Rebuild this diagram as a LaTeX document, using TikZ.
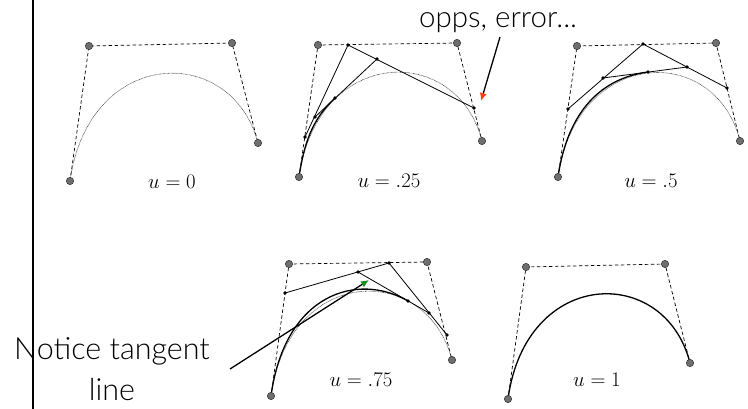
\documentclass[tikz,border=0pt]{standalone}
\usepackage{fontspec}
\newfontfamily\annfont{Lato Light}
\usetikzlibrary{arrows.meta}
\definecolor{errred}{RGB}{255,60,20}
\definecolor{tangreen}{RGB}{30,140,30}
\definecolor{ctrlgray}{RGB}{110,110,110}
\begin{document}
\begin{tikzpicture}[x=1pt,y=-1pt,
  ctrl/.style={circle,draw=black!80,line width=0.5pt,fill=ctrlgray,inner sep=0pt,minimum size=7.4pt},
  dot/.style={circle,fill=black,inner sep=0pt,minimum size=3.6pt},
  poly/.style={line width=0.7pt,dash pattern=on 3.5pt off 2.5pt},
  guide/.style={line width=0.6pt,black!80,dash pattern=on 0.6pt off 0.7pt},
  curvethick/.style={line width=1.3pt},
  constr/.style={line width=0.8pt},
  lab/.style={anchor=base,font=\fontsize{19.5}{23}\selectfont},
  ann/.style={font=\annfont\fontsize{30.5}{41}\selectfont,align=center,inner sep=0pt},
  arr/.style={line width=1.3pt}]
\useasboundingbox (0,0) rectangle (748,409);

% left vertical rule
\coordinate (vtop) at (33,0);
\coordinate (vbot) at (33,409);
\draw[line width=1.6pt] (vtop) -- (vbot);

% ---------- panel 1 : u = 0
\coordinate (a0) at (70,181);
\coordinate (a1) at (89,46);
\coordinate (a2) at (232,43);
\coordinate (a3) at (258,143);
\draw[poly] (a0) -- (a1) -- (a2) -- (a3);
\draw[guide] (a0) .. controls (a1) and (a2) .. (a3);
\foreach \p in {a0,a1,a2,a3} \node[ctrl] at (\p) {};
\node[lab] (la) at (172,189) {$u=0$};

% ---------- panel 2 : u = .25 (with error)
\coordinate (b0) at (299,177);
\coordinate (b1) at (318,45);
\coordinate (b2) at (457,43);
\coordinate (b3) at (482,141);
\coordinate (bq0) at (305,137);
\coordinate (bq1) at (348,45);
\coordinate (bq2) at (474,108);
\coordinate (br0) at (315,117);
\coordinate (br1) at (377,59);
\coordinate (bs) at (335,98);
\draw[poly] (b0) -- (b1) -- (b2) -- (b3);
\draw[guide] (b0) .. controls (b1) and (b2) .. (b3);
\draw[curvethick] (b0) .. controls (bq0) and (br0) .. (bs);
\draw[constr] (bq0) -- (bq1) -- (bq2);
\draw[constr] (br0) -- (br1);
\foreach \p in {b0,b1,b2,b3} \node[ctrl] at (\p) {};
\foreach \p in {bq0,bq1,bq2,br0,br1,bs} \node[dot] at (\p) {};
\node[lab] (lb) at (389,188) {$u=.25$};

% ---------- panel 3 : u = .5
\coordinate (c0) at (558,177);
\coordinate (c1) at (577,46);
\coordinate (c2) at (716,43);
\coordinate (c3) at (740,141);
\coordinate (cq0) at (568,109);
\coordinate (cq1) at (643,44);
\coordinate (cq2) at (727,88);
\coordinate (cr0) at (603,78);
\coordinate (cr1) at (687,67);
\coordinate (cs) at (648,72);
\draw[poly] (c0) -- (c1) -- (c2) -- (c3);
\draw[guide] (c0) .. controls (c1) and (c2) .. (c3);
\draw[curvethick] (c0) .. controls (cq0) and (cr0) .. (cs);
\draw[constr] (cq0) -- (cq1) -- (cq2);
\draw[constr] (cr0) -- (cr1);
\foreach \p in {c0,c1,c2,c3} \node[ctrl] at (\p) {};
\foreach \p in {cq0,cq1,cq2,cr0,cr1,cs} \node[dot] at (\p) {};
\node[lab] (lc) at (651,188) {$u=.5$};

% ---------- panel 4 : u = .75
\coordinate (d0) at (271,396);
\coordinate (d1) at (289,264);
\coordinate (d2) at (427,262);
\coordinate (d3) at (452,360);
\coordinate (dq0) at (285,293);
\coordinate (dq1) at (389,263);
\coordinate (dq2) at (447,335);
\coordinate (dr0) at (358,272);
\coordinate (dr1) at (429,313);
\coordinate (ds) at (408,301);
\draw[poly] (d0) -- (d1) -- (d2) -- (d3);
\draw[guide] (d0) .. controls (d1) and (d2) .. (d3);
\draw[curvethick] (d0) .. controls (dq0) and (dr0) .. (ds);
\draw[constr] (dq0) -- (dq1) -- (dq2);
\draw[constr] (dr0) -- (dr1);
\foreach \p in {d0,d1,d2,d3} \node[ctrl] at (\p) {};
\foreach \p in {dq0,dq1,dq2,dr0,dr1,ds} \node[dot] at (\p) {};
\node[lab] (ld) at (361,386) {$u=.75$};

% ---------- panel 5 : u = 1
\coordinate (e0) at (508,399);
\coordinate (e1) at (526,267);
\coordinate (e2) at (665,264);
\coordinate (e3) at (690,363);
\draw[poly] (e0) -- (e1) -- (e2) -- (e3);
\draw[curvethick] (e0) .. controls (e1) and (e2) .. (e3);
\foreach \p in {e0,e1,e2,e3} \node[ctrl] at (\p) {};
\node[lab] (le) at (597,386) {$u=1$};

% ---------- annotations
\node[ann,anchor=base,font=\annfont\fontsize{29.5}{40}\selectfont] (opps) at (498,28) {opps, error...};
\coordinate (oppsfrom) at (500,37);
\coordinate (oppsto) at (481,101);
\draw[arr,-{Latex[length=8pt,width=7pt,color=errred]}] (oppsfrom) -- (oppsto);

\node[ann] (notice) at (112,369) {Notice tangent\\line};
\coordinate (tanfrom) at (230,369);
\coordinate (tanto) at (369,280);
\draw[arr,-{Latex[length=8pt,width=7pt,color=tangreen]}] (tanfrom) -- (tanto);
\end{tikzpicture}
\end{document}
